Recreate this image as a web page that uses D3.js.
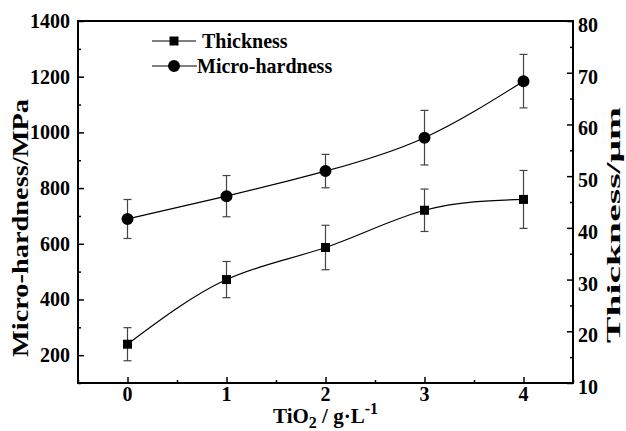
<!DOCTYPE html>
<html>
<head>
<meta charset="utf-8">
<script src="https://cdn.jsdelivr.net/npm/d3@7"></script>
<style>
  body { margin: 0; background: #fff; }
  svg text { font-family: "Liberation Serif", "Times New Roman", serif; font-weight: bold; fill: #000; }
</style>
</head>
<body>
<svg id="chart"></svg>
<script>
// TiO2 concentration (g/L)
const tio2 = [0, 1, 2, 3, 4]
// coating thickness (um) and its error
const thickness = [17.5, 30.0, 36.2, 43.4, 45.5]
const thicknessErr = [3.2, 3.5, 4.3, 4.1, 5.6]
// micro-hardness (MPa) and its error
const hardness = [689, 771, 861, 981, 1184]
const hardnessErr = [70, 74, 60, 98, 96]

const leftTicks = [200, 400, 600, 800, 1000, 1200, 1400]
const rightTicks = [10, 20, 30, 40, 50, 60, 70, 80]
const xTicks = [0, 1, 2, 3, 4]

const width = 626, height = 431
const margins = {left: 78, right: 53, top: 21, bottom: 48}

const svg = d3.select("#chart").attr("width", width).attr("height", height)

const scaleX = d3.scaleLinear().domain([-0.5, 4.5]).range([margins.left, width - margins.right])
const scaleL = d3.scaleLinear().domain([100, 1400]).range([height - margins.bottom, margins.top])
const scaleR = d3.scaleLinear().domain([10, 80]).range([height - margins.bottom, margins.top])

const x0 = margins.left, x1 = width - margins.right
const y0 = height - margins.bottom, y1 = margins.top

// ticks point into the plot; labels are drawn separately
let xMinor = d3.range(-0.5, 4.51, 0.5).filter(d => !xTicks.includes(d))
let gx = svg.append("g").attr("transform", `translate(0, ${y0})`)
gx.append("g").call(d3.axisTop(scaleX).tickValues(xMinor).tickSize(3).tickFormat(""))
gx.append("g").call(d3.axisTop(scaleX).tickValues(xTicks).tickSize(6).tickFormat(""))

let lMinor = d3.range(100, 1401, 100).filter(d => !leftTicks.includes(d))
let gl = svg.append("g").attr("transform", `translate(${x0}, 0)`)
gl.append("g").call(d3.axisRight(scaleL).tickValues(lMinor).tickSize(3).tickFormat(""))
gl.append("g").call(d3.axisRight(scaleL).tickValues(leftTicks).tickSize(6).tickFormat(""))

let rMinor = d3.range(15, 80, 10)
let gr = svg.append("g").attr("transform", `translate(${x1}, 0)`)
gr.append("g").call(d3.axisLeft(scaleR).tickValues(rMinor).tickSize(3).tickFormat(""))
gr.append("g").call(d3.axisLeft(scaleR).tickValues(rightTicks).tickSize(6).tickFormat(""))

svg.selectAll(".domain").remove()
svg.selectAll(".tick line").attr("stroke", "#000").attr("stroke-width", 1.5)

// tick labels
let labels = svg.append("g").attr("font-size", 20)
labels.selectAll(".xl").data(xTicks).join("text")
    .attr("x", d => scaleX(d)).attr("y", y0 + 18)
    .attr("text-anchor", "middle").text(d => d)
labels.selectAll(".ll").data(leftTicks).join("text")
    .attr("x", x0 - 8).attr("y", d => scaleL(d)).attr("dy", "0.35em")
    .attr("text-anchor", "end").text(d => d)
labels.selectAll(".rl").data(rightTicks).join("text")
    .attr("x", x1 + 5).attr("y", d => scaleR(d) + 4).attr("dy", "0.35em")
    .attr("text-anchor", "start").text(d => d)

// frame
svg.append("rect")
    .attr("x", x0).attr("y", y1).attr("width", x1 - x0).attr("height", y0 - y1)
    .attr("fill", "none").attr("stroke", "#000").attr("stroke-width", 2)

// axis titles
svg.append("text")
    .attr("transform", `translate(28, 228) rotate(-90)`)
    .attr("text-anchor", "middle").attr("font-size", 24)
    .attr("textLength", 258).attr("lengthAdjust", "spacingAndGlyphs")
    .text("Micro-hardness/MPa")
svg.append("text")
    .attr("transform", `translate(620, 225) rotate(-90)`)
    .attr("text-anchor", "middle").attr("font-size", 19)
    .attr("textLength", 236).attr("lengthAdjust", "spacingAndGlyphs")
    .text("Thickness/μm")
let xt = svg.append("text")
    .attr("x", (x0 + x1) / 2).attr("y", 423)
    .attr("text-anchor", "middle").attr("font-size", 21)
xt.append("tspan").text("TiO")
xt.append("tspan").attr("font-size", 16).attr("dy", 5).text("2")
xt.append("tspan").attr("dy", -5).text(" / g·L")
xt.append("tspan").attr("font-size", 16).attr("dy", -9).text("-1")

// series
const series = [
    {name: "Thickness", values: thickness, errs: thicknessErr, scale: scaleR, shape: d3.symbolSquare, size: 81},
    {name: "Micro-hardness", values: hardness, errs: hardnessErr, scale: scaleL, shape: d3.symbolCircle, size: 113}
]

let line = sc => d3.line().x((d, i) => scaleX(tio2[i])).y(d => sc(d)).curve(d3.curveNatural)

series.forEach(s => {
    let g = svg.append("g")
    g.append("path").datum(s.values)
        .attr("d", line(s.scale))
        .attr("fill", "none").attr("stroke", "#000").attr("stroke-width", 1.2)

    // error bars
    let eb = g.selectAll(".err").data(s.values).join("g").attr("stroke", "#444").attr("stroke-width", 1.2)
    eb.append("line")
        .attr("x1", (d, i) => scaleX(tio2[i])).attr("x2", (d, i) => scaleX(tio2[i]))
        .attr("y1", (d, i) => s.scale(d + s.errs[i])).attr("y2", (d, i) => s.scale(d - s.errs[i]))
    eb.append("line")
        .attr("x1", (d, i) => scaleX(tio2[i]) - 4).attr("x2", (d, i) => scaleX(tio2[i]) + 4)
        .attr("y1", (d, i) => s.scale(d + s.errs[i])).attr("y2", (d, i) => s.scale(d + s.errs[i]))
    eb.append("line")
        .attr("x1", (d, i) => scaleX(tio2[i]) - 4).attr("x2", (d, i) => scaleX(tio2[i]) + 4)
        .attr("y1", (d, i) => s.scale(d - s.errs[i])).attr("y2", (d, i) => s.scale(d - s.errs[i]))

    g.selectAll(".mark").data(s.values).join("path")
        .attr("transform", (d, i) => `translate(${scaleX(tio2[i])}, ${s.scale(d)})`)
        .attr("d", d3.symbol().type(s.shape).size(s.size))
        .attr("fill", "#000")
})

// legend
let legend = svg.append("g")
series.forEach((s, i) => {
    let y = 41 + i * 25
    let textX = i == 0 ? 202 : 197
    legend.append("line").attr("x1", 152).attr("x2", textX - 6 + i * 6)
        .attr("y1", y).attr("y2", y).attr("stroke", "#000").attr("stroke-width", 1.2)
    legend.append("path")
        .attr("transform", `translate(174, ${y})`)
        .attr("d", d3.symbol().type(s.shape).size(s.size))
        .attr("fill", "#000")
    legend.append("text")
        .attr("x", textX).attr("y", y).attr("dy", "0.35em")
        .attr("font-size", 20).text(s.name)
})
</script>
</body>
</html>
